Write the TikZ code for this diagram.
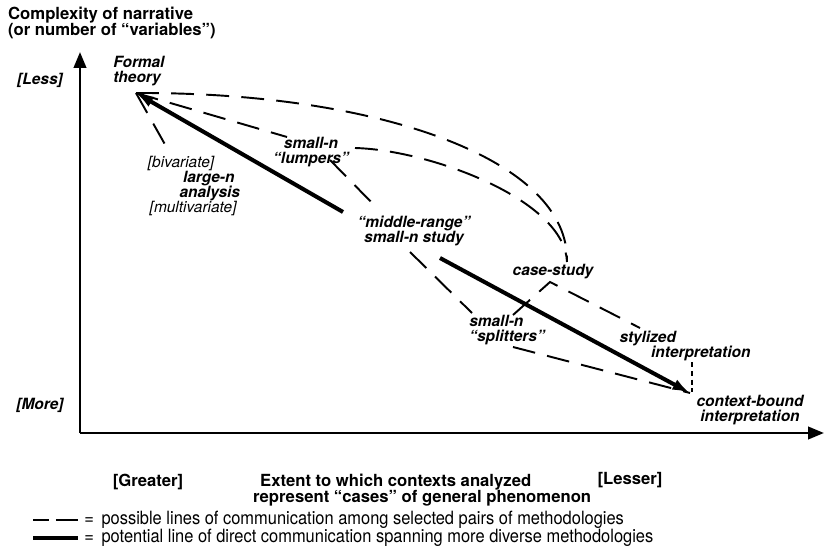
\documentclass[tikz,border=0pt]{standalone}
\usepackage{fontspec}
\setmainfont{TeX Gyre Heros}
\newfontfamily\narrowfont[FakeStretch=0.9]{TeX Gyre Heros}
\usepackage{tikz}
\usetikzlibrary{arrows.meta, calc}

\begin{document}
\begin{tikzpicture}[x=0.02cm, y=-0.02cm,
    lbl/.style={font=\fontsize{8.8}{8.6}\selectfont\bfseries\itshape, align=left, inner sep=1pt},
    axlbl/.style={font=\fontsize{9.5}{9.2}\selectfont\bfseries, align=left, inner sep=1pt},
    leg/.style={font=\narrowfont\fontsize{10.4}{10}\selectfont, anchor=west, inner sep=0pt},
    comm/.style={line width=1.1pt, dash pattern=on 13pt off 7pt},
    direct/.style={line width=2.3pt},
    tip/.style={-{Latex[length=10pt,width=6.5pt]}}]
    \useasboundingbox (0,0) rectangle (825,547);

    % Axes
    \coordinate (origin) at (80,433);
    \draw[line width=1.5pt, -{Triangle[length=9pt,width=7pt]}] (origin) -- (80,52);
    \draw[line width=1.5pt, -{Triangle[length=9pt,width=7pt]}] (origin) -- (824,433);
    \node[axlbl, anchor=west] (ytitle) at (6,23) {Complexity of narrative\\(or number of “variables”)};
    \node[lbl] (less) at (40,80) {[Less]};
    \node[lbl] (more) at (40,405) {[More]};
    \node[axlbl] (greater) at (148,482) {[Greater]};
    \node[axlbl, anchor=west] (xtitle) at (251,490) {\hspace*{4pt}Extent to which contexts analyzed\\represent “cases” of general phenomenon};
    \node[axlbl] (lesser) at (630,480) {[Lesser]};

    % Methodologies
    \node[lbl] (theory) at (139,71) {Formal\\theory};
    \node[lbl] (largen) at (194,186) {{\mdseries [bivariate]}\\\hspace*{20pt}large-n\\\hspace*{18pt}analysis\\\hspace*{1pt}{\mdseries [multivariate]}};
    \node[lbl, align=center] (lumpers) at (311,152) {small-n\\“lumpers”};
    \node[lbl, align=center] (midrange) at (414,231) {“middle-range”\\small-n study};
    \node[lbl] (casestudy) at (553,272) {case-study};
    \node[lbl] (splitters) at (507,330) {small-n\\“splitters”};
    \node[lbl] (stylized) at (685,346) {stylized\\\hspace*{18pt}interpretation};
    \node[lbl, align=center] (contextb) at (750,410) {context-bound\\interpretation};

    % Direct line of communication
    \draw[direct, tip] ($(midrange)+(-71,-19)$) -- ($(theory)+(-3,22)$);
    \draw[direct, tip] ($(midrange)+(26,27)$) -- ($(contextb)+(-60,-17)$);

    % Lines between pairs
    \draw[comm] ($(theory)+(-3,22)$) -- ($(largen)+(-27,-38)$);
    \draw[comm] ($(theory)+(-3,22)$) -- ($(lumpers)+(-24,-15)$);
    \draw[comm] ($(theory)+(-3,22)$) .. controls +(244,-1) and +(3,-102) .. ($(casestudy)+(14,-10)$);
    \draw[comm] ($(lumpers)+(44,-4)$) .. controls +(75,2) and +(-2,-62) .. ($(casestudy)+(14,-10)$);
    \draw[comm] ($(lumpers)+(19,8)$) -- ($(midrange)+(-37,-23)$);
    \draw[comm] ($(midrange)+(-4,21)$) -- ($(splitters)+(-35,-17)$);
    \draw[comm] ($(splitters)+(6,-15)$) -- ($(casestudy)+(-3,10)$) -- ($(stylized)+(-45,-18)$);
    \draw[comm] ($(splitters)+(6,17)$) -- ($(contextb)+(-60,-17)$);
    \draw[line width=0.8pt, dash pattern=on 3pt off 2pt] ($(stylized)+(7,16)$) -- ($(contextb)+(-58,-18)$);

    % Legend
    \node[leg] (legdash) at (84,520) {=\, possible lines of communication among selected pairs of methodologies};
    \node[leg] (legdirect) at (84,538) {=\, potential line of direct communication spanning more diverse methodologies};
    \draw[comm, dash pattern=on 9pt off 4pt on 13pt off 10pt] ($(legdash.west)+(-51,0)$) -- ($(legdash.west)+(-6,0)$);
    \draw[direct] ($(legdirect.west)+(-51,0)$) -- ($(legdirect.west)+(-6,0)$);
\end{tikzpicture}
\end{document}
